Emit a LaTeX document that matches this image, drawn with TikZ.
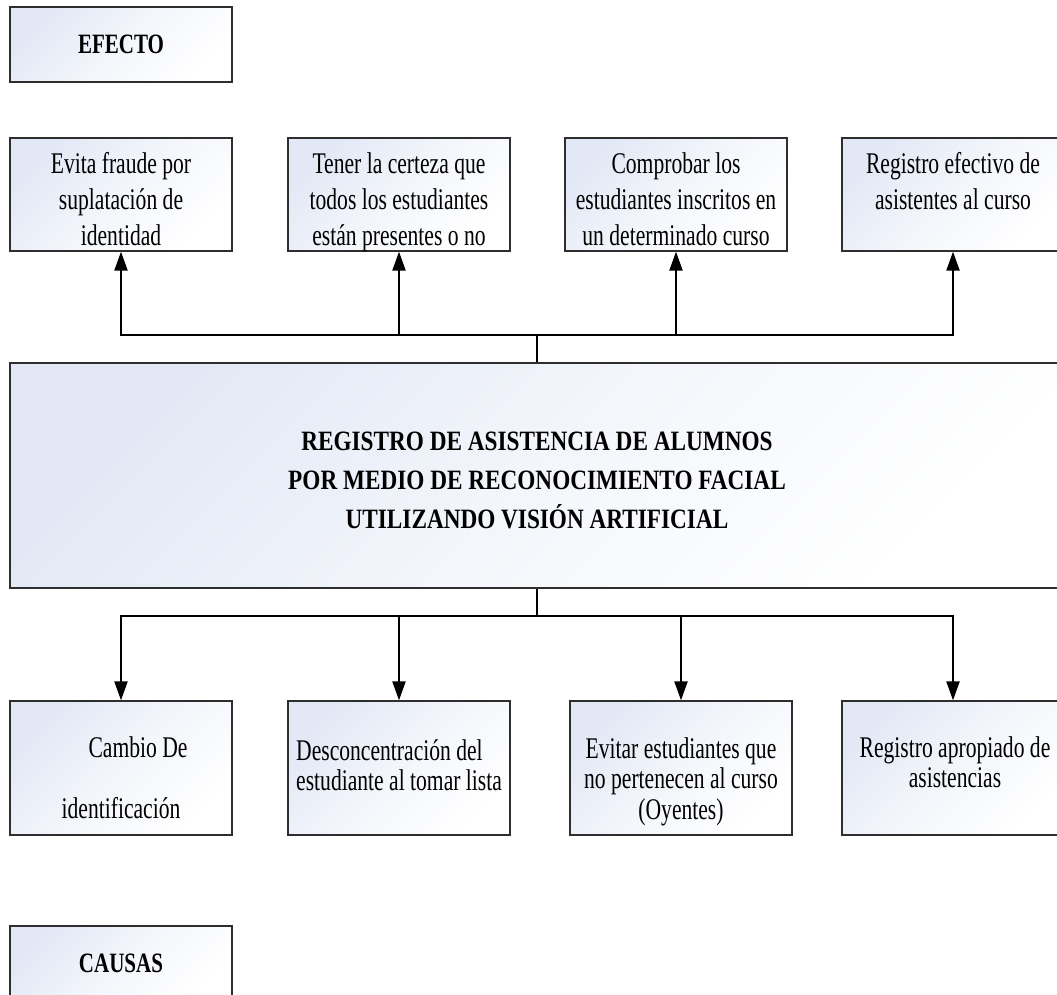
\documentclass[tikz,border=0pt]{standalone}
\usepackage{fontspec}
\setmainfont{Liberation Serif}[FakeStretch=0.72]
\newfontfamily\headfont{Liberation Serif}[FakeStretch=0.75]
\newfontfamily\titlefont{Liberation Serif}[FakeStretch=0.83]
\usetikzlibrary{arrows.meta}
\definecolor{boxtint}{HTML}{E2E8F5}
\definecolor{boxline}{HTML}{2E2E2E}
\tikzset{
  panel/.style={rectangle, draw=boxline, line width=1.3pt, left color=boxtint,
    right color=white, middle color=white!60!boxtint, shading angle=45, inner sep=0pt},
  cell/.style={panel, minimum width=222pt},
  link/.style={line width=2.2pt, draw=black},
  feed/.style={link, -{Triangle[length=19pt,width=13pt]}},
  bodytext/.style={inner sep=0pt, anchor=north, align=center,
    font=\fontsize{30}{36}\selectfont},
  lowtext/.style={inner sep=0pt, anchor=north, align=center,
    font=\fontsize{30}{30.5}\selectfont},
  headtext/.style={font=\headfont\fontsize{28}{34}\selectfont\bfseries},
}
\begin{document}
\begin{tikzpicture}[x=1pt,y=-1pt]
\useasboundingbox (0,0) rectangle (1057,995);
\clip (0,0) rectangle (1057,995);

% section labels
\node[cell, minimum height=75pt, headtext] (efecto) at (121,44.5) {EFECTO};
\node[cell, minimum height=75pt, headtext] (causas) at (121,963.5) {CAUSAS};

% effects (top row)
\node[cell, minimum height=113pt] (t1) at (121,194.5) {};
\node[cell, minimum height=113pt] (t2) at (399,194.5) {};
\node[cell, minimum height=113pt] (t3) at (676,194.5) {};
\node[cell, minimum height=113pt] (t4) at (953,194.5) {};
\node[bodytext] (t1txt) at (121,152.5) {Evita fraude por\\suplatación de\\identidad};
\node[bodytext] (t2txt) at (399,152.5) {Tener la certeza que\\todos los estudiantes\\están presentes o no};
\node[bodytext] (t3txt) at (676,152.5) {Comprobar los\\estudiantes inscritos en\\un determinado curso};
\node[bodytext] (t4txt) at (953,152.5) {Registro efectivo de\\asistentes al curso};

% central problem
\node[panel, minimum width=1054pt, minimum height=225pt] (core) at (537,475.5) {};
\node[inner sep=0pt, anchor=north, align=center,
  font=\titlefont\fontsize{28}{39}\selectfont\bfseries] (coretxt) at (537,431.5)
  {REGISTRO DE ASISTENCIA DE ALUMNOS\\POR MEDIO DE RECONOCIMIENTO FACIAL\\UTILIZANDO VISIÓN ARTIFICIAL};

% causes (bottom row)
\node[cell, minimum height=134pt] (b1) at (121,768) {};
\node[cell, minimum height=134pt] (b2) at (399,768) {};
\node[cell, minimum height=134pt] (b3) at (681,768) {};
\node[cell, minimum height=134pt] (b4) at (953,768) {};
\node[lowtext] (b1txt) at (121,736) {\hspace*{34pt}Cambio De\\[30.5pt]identificación};
\node[lowtext, anchor=north west, align=left] (b2txt) at (296,739) {Desconcentración del\\estudiante al tomar lista};
\node[lowtext] (b3txt) at (681,737) {Evitar estudiantes que\\no pertenecen al curso\\(Oyentes)};
\node[lowtext] (b4txt) at (955,736) {Registro apropiado de\\asistencias};

% connectors
\coordinate (jt) at (537,335);
\coordinate (jb) at (537,616);
\draw[link] (core.north) -- (jt);
\draw[feed] (jt) -| (t1.south);
\draw[feed] (jt) -| (t2.south);
\draw[feed] (jt) -| (t3.south);
\draw[feed] (jt) -| (t4.south);
\draw[link] (core.south) -- (jb);
\draw[feed] (jb) -| (b1.north);
\draw[feed] (jb) -| (b2.north);
\draw[feed] (jb) -| (b3.north);
\draw[feed] (jb) -| (b4.north);
\end{tikzpicture}
\end{document}
